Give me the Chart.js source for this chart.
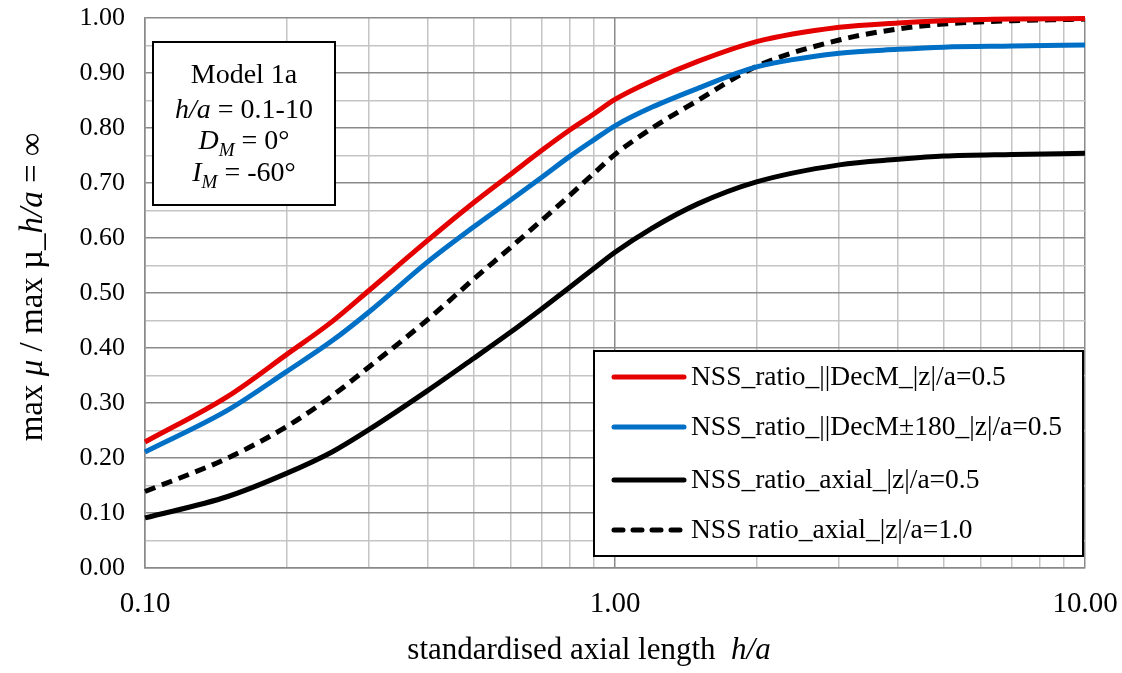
<!DOCTYPE html>
<html>
<head>
<meta charset="utf-8">
<script src="https://cdn.jsdelivr.net/npm/chart.js@4.4.1/dist/chart.umd.min.js"></script>
<style>
  body { margin: 0; background: #fff; }
  #wrap { width: 1122px; height: 673px; }
</style>
</head>
<body>
<div id="wrap"><canvas id="chart" width="1122" height="673"></canvas></div>
<script>
// values
const hOverA = [0.1, 0.15, 0.2, 0.25, 0.3, 0.4, 0.5, 0.6, 0.7, 0.8, 0.9, 1.0, 1.2, 1.5, 2, 3, 4, 5, 7, 10];
const nssDecM = [0.229, 0.312, 0.388, 0.448, 0.505, 0.596, 0.664, 0.716, 0.760, 0.796, 0.825, 0.852, 0.886, 0.921, 0.957, 0.983, 0.991, 0.995, 0.998, 0.999];
const nssDecM180 = [0.211, 0.287, 0.357, 0.413, 0.466, 0.557, 0.620, 0.669, 0.711, 0.748, 0.778, 0.804, 0.838, 0.872, 0.911, 0.936, 0.943, 0.947, 0.949, 0.951];
const nssAxial05 = [0.091, 0.130, 0.172, 0.211, 0.252, 0.323, 0.381, 0.429, 0.472, 0.510, 0.544, 0.574, 0.618, 0.662, 0.702, 0.733, 0.743, 0.749, 0.752, 0.754];
const nssAxial10 = [0.139, 0.200, 0.257, 0.313, 0.366, 0.452, 0.525, 0.583, 0.633, 0.677, 0.717, 0.752, 0.800, 0.850, 0.912, 0.960, 0.980, 0.989, 0.995, 0.998];

const seriesLabels = [
    'NSS_ratio_||DecM_|z|/a=0.5',
    'NSS_ratio_||DecM\u00b1180_|z|/a=0.5',
    'NSS_ratio_axial_|z|/a=0.5',
    'NSS ratio_axial_|z|/a=1.0'
];

const xGridValues = [0.1, 0.2, 0.3, 0.4, 0.5, 0.6, 0.7, 0.8, 0.9, 1, 2, 3, 4, 5, 6, 7, 8, 9, 10];
const xLabelValues = [0.1, 1, 10];

const SERIF = '"Liberation Serif", "Times New Roman", serif';
const MAJOR = '#8a8a8a';
const MINOR = '#c4c4c4';

function pts(ys) {
    return hOverA.map((x, i) => ({ x: x, y: ys[i] }));
}

function isMajorY(v) {
    return Math.abs(v * 10 - Math.round(v * 10)) < 1e-6;
}

// no extra label padding, so the plot area stays where the layout puts it
function noPad(scale) {
    scale.paddingTop = 0;
    scale.paddingBottom = 0;
    scale.paddingLeft = 0;
    scale.paddingRight = 0;
}

// draws a row of text pieces, some italic / subscript
function drawRuns(ctx, runs, x, y, size, align) {
    const fontFor = r => (r.italic ? 'italic ' : '') + (r.sub ? size * 0.68 : size) + 'px ' + SERIF;
    let total = 0;
    runs.forEach(r => { ctx.font = fontFor(r); total += ctx.measureText(r.t).width; });
    let cx = align === 'left' ? x : x - total / 2;
    ctx.textAlign = 'left';
    ctx.textBaseline = 'alphabetic';
    runs.forEach(r => {
        ctx.font = fontFor(r);
        ctx.fillText(r.t, cx, r.sub ? y + size * 0.25 : y);
        cx += ctx.measureText(r.t).width;
    });
}

const overlays = {
    id: 'overlays',
    afterDraw(chart) {
        const ctx = chart.ctx;
        ctx.save();

        // model text box
        ctx.fillStyle = '#fff';
        ctx.fillRect(153, 42, 182, 163);
        ctx.strokeStyle = '#000';
        ctx.lineWidth = 2;
        ctx.strokeRect(153, 42, 182, 163);
        ctx.fillStyle = '#000';
        drawRuns(ctx, [{ t: 'Model 1a' }], 244, 83, 28);
        drawRuns(ctx, [{ t: 'h/a', italic: true }, { t: ' = 0.1-10' }], 244, 118, 28);
        drawRuns(ctx, [{ t: 'D', italic: true }, { t: 'M', italic: true, sub: true }, { t: ' = 0\u00b0' }], 244, 149, 28);
        drawRuns(ctx, [{ t: 'I', italic: true }, { t: 'M', italic: true, sub: true }, { t: ' = -60\u00b0' }], 244, 181, 28);

        // legend box
        ctx.fillStyle = '#fff';
        ctx.fillRect(594, 351, 489, 205);
        ctx.strokeStyle = '#000';
        ctx.lineWidth = 2;
        ctx.strokeRect(594, 351, 489, 205);
        const rows = [377, 427, 480, 530];
        chart.data.datasets.forEach((ds, i) => {
            ctx.beginPath();
            ctx.strokeStyle = ds.borderColor;
            ctx.lineWidth = ds.borderWidth;
            ctx.lineCap = 'round';
            ctx.setLineDash(ds.borderDash.length ? [9, 10] : []);
            ctx.moveTo(614, rows[i]);
            ctx.lineTo(684, rows[i]);
            ctx.stroke();
            ctx.setLineDash([]);
            ctx.fillStyle = '#000';
            drawRuns(ctx, [{ t: ds.label }], 691, rows[i] + 8, 27.5, 'left');
        });

        // axis titles
        drawRuns(ctx, [{ t: 'standardised axial length  ' }, { t: 'h/a', italic: true }], 589, 659, 31);
        ctx.translate(42, 287);
        ctx.rotate(-Math.PI / 2);
        drawRuns(ctx, [
            { t: 'max ' }, { t: '\u03bc', italic: true }, { t: ' / max \u00b5_' },
            { t: 'h/a', italic: true }, { t: ' = \u221e' }
        ], 0, 0, 33);
        ctx.restore();
    }
};

const lineStyle = (label, ys, color, dash) => ({
    label: label,
    data: pts(ys),
    borderColor: color,
    backgroundColor: color,
    borderWidth: 5,
    borderDash: dash,
    pointRadius: 0,
    cubicInterpolationMode: 'monotone',
    fill: false,
    clip: 4
});

new Chart(document.getElementById('chart'), {
    type: 'line',
    data: {
        datasets: [
            lineStyle(seriesLabels[0], nssDecM, '#e50000', []),
            lineStyle(seriesLabels[1], nssDecM180, '#0070c6', []),
            lineStyle(seriesLabels[2], nssAxial05, '#000000', []),
            lineStyle(seriesLabels[3], nssAxial10, '#000000', [11, 7])
        ]
    },
    options: {
        responsive: false,
        animation: false,
        layout: { padding: { top: 18, right: 37, left: 0, bottom: 0 } },
        plugins: {
            legend: { display: false },
            tooltip: { enabled: false }
        },
        scales: {
            x: {
                type: 'logarithmic',
                min: 0.1,
                max: 10,
                afterBuildTicks: scale => {
                    scale.ticks = xGridValues.map(v => ({ value: v }));
                },
                afterFit: scale => { scale.height = 105; noPad(scale); },
                ticks: {
                    autoSkip: false,
                    maxRotation: 0,
                    padding: 19,
                    color: '#000',
                    font: { family: SERIF, size: 29 },
                    callback: v => xLabelValues.some(m => Math.abs(m - v) < 1e-9) ? v.toFixed(2) : ''
                },
                grid: {
                    drawTicks: false,
                    lineWidth: 1.5,
                    color: c => xLabelValues.some(m => Math.abs(m - c.tick.value) < 1e-9) ? MAJOR : MINOR
                },
                border: { display: true, color: MAJOR, width: 1.5 }
            },
            y: {
                min: 0,
                max: 1,
                afterFit: scale => { scale.width = 145; noPad(scale); },
                ticks: {
                    stepSize: 0.05,
                    autoSkip: false,
                    padding: 20,
                    color: '#000',
                    font: { family: SERIF, size: 26 },
                    callback: v => isMajorY(v) ? v.toFixed(2) : ''
                },
                grid: {
                    drawTicks: false,
                    lineWidth: 1.5,
                    color: c => isMajorY(c.tick.value) ? MAJOR : MINOR
                },
                border: { display: true, color: MAJOR, width: 1.5 }
            }
        }
    },
    plugins: [overlays]
});
</script>
</body>
</html>
